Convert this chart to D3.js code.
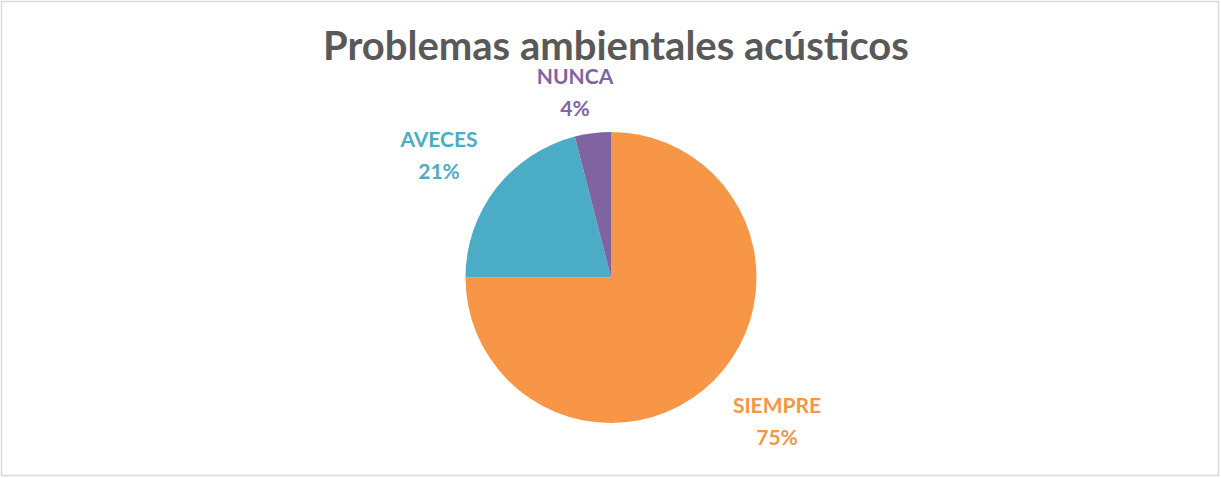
<!DOCTYPE html>
<html><head><meta charset="utf-8">
<script src="https://cdn.jsdelivr.net/npm/d3@7"></script>
<style>html,body{margin:0;padding:0;background:#fff}</style>
</head><body>
<svg id="c" width="1221" height="478"></svg>
<script>
const categories = ["SIEMPRE", "AVECES", "NUNCA"];
const values = [75, 21, 4];
const colors = ["#F79646", "#4BACC6", "#8064A2"];
const title = "Problemas ambientales acústicos";

const svg = d3.select("#c");
svg.append("rect").attr("x",1.5).attr("y",1.5).attr("width",1217).attr("height",474)
  .attr("fill","#fff").attr("stroke","#d9d9d9").attr("stroke-width",1.5);

svg.append("text").attr("x",616).attr("y",60).attr("text-anchor","middle")
  .attr("font-family","Lato, 'Open Sans', sans-serif").attr("font-weight","bold")
  .attr("font-size",40).attr("fill","#595959").text(title);

const cx = 611, cy = 277.5, r = 145.5;
const data = categories.map((c,i)=>({cat:c, v:values[i], col:colors[i]}));
const pie = d3.pie().value(d=>d.v).sort(null);
const arc = d3.arc().innerRadius(0).outerRadius(r);
const g = svg.append("g").attr("transform",`translate(${cx},${cy})`);
const arcs = pie(data);
g.selectAll("path").data(arcs).join("path").attr("d",arc).attr("fill",d=>d.data.col);

// label offsets (relative to pie centre) for first baseline
const labelOffsets = [[166,135.5],[-172,-130.5],[-36,-193.5]];
const fmt = d3.format(".0%");
const total = d3.sum(values);
arcs.forEach((a,i)=>{
  const [x,y] = labelOffsets[i];
  const t = g.append("text").attr("text-anchor","middle")
    .attr("font-family","Lato, 'Open Sans', sans-serif").attr("font-weight","bold")
    .attr("font-size",21).attr("fill",a.data.col);
  t.append("tspan").attr("x",x).attr("y",y).text(a.data.cat);
  t.append("tspan").attr("x",x).attr("y",y+32).text(fmt(a.data.v/total));
});
</script>
</body></html>
